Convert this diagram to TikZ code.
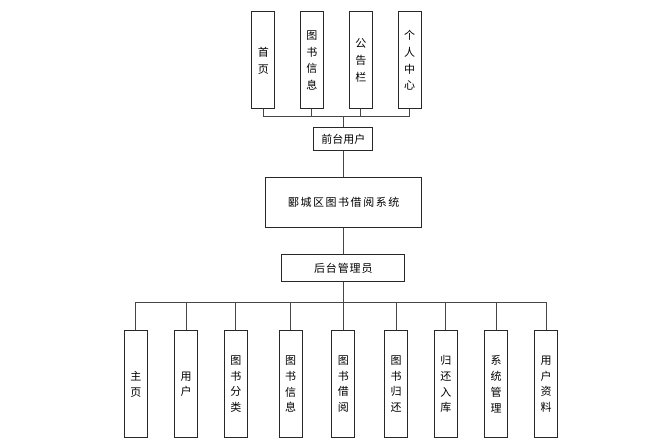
\documentclass[tikz,border=0pt]{standalone}
\usepackage{fontspec}
\setmainfont{Noto Sans CJK SC}
\usetikzlibrary{positioning}
\definecolor{Frame}{RGB}{40,40,40}
\definecolor{Wire}{RGB}{70,70,70}

\begin{document}
\begin{tikzpicture}[
    x=1pt,y=-1pt,
    module/.style={rectangle,draw=Frame,line width=1pt,fill=white,align=center,inner sep=0pt,font=\fontsize{11}{16.7}\selectfont},
    topitem/.style={module,minimum width=23pt,minimum height=97pt},
    subitem/.style={module,minimum width=23pt,minimum height=107pt,font=\fontsize{11}{15.7}\selectfont},
    wire/.style={draw=Wire,line width=0.9pt}
]
\useasboundingbox (0,0) rectangle (661,446);

% Front-end user and its pages
\node[topitem] (shouye) at (263.3,60.5) {首\\页};
\node[topitem] (tushu-xinxi) at (311.8,60.5) {图\\书\\信\\息};
\node[topitem] (gonggao) at (360.8,60.5) {公\\告\\栏};
\node[topitem] (geren) at (409.7,60.5) {个\\人\\中\\心};

\node[module,minimum width=58.7pt,minimum height=22.3pt] (qiantai) at (343.3,139) {前台用户};

\coordinate (top-bus) at (343.3,116);
\draw[wire] (shouye.south) |- (top-bus);
\draw[wire] (tushu-xinxi.south) |- (top-bus);
\draw[wire] (gonggao.south) |- (top-bus);
\draw[wire] (geren.south) |- (top-bus);
\draw[wire] (top-bus) -- (qiantai.north);

% System
\node[module,minimum width=156pt,minimum height=50.4pt] (xitong) at (343.7,202.5) {\addfontfeature{LetterSpace=14}郾城区图书借阅系统};
\draw[wire] (qiantai.south) -- (qiantai.south |- xitong.north);

% Back-end administrator
\node[module,minimum width=123.3pt,minimum height=27.4pt] (houtai) at (343.3,268) {\addfontfeature{LetterSpace=8}后台管理员};
\draw[wire] (houtai.north |- xitong.south) -- (houtai.north);

% Administrator pages
\node[subitem] (zhuye) at (135.8,384.2) {主\\页};
\node[subitem] (yonghu) at (186,384.2) {用\\户};
\node[subitem] (fenlei) at (235.8,384.2) {图\\书\\分\\类};
\node[subitem] (xinxi) at (290.5,384.2) {图\\书\\信\\息};
\node[subitem] (jieyue) at (343.3,384.2) {图\\书\\借\\阅};
\node[subitem] (guihuan) at (396,384.2) {图\\书\\归\\还};
\node[subitem] (ruku) at (445.8,384.2) {归\\还\\入\\库};
\node[subitem] (guanli) at (496,384.2) {系\\统\\管\\理};
\node[subitem] (ziliao) at (546,384.2) {用\\户\\资\\料};

\coordinate (bottom-bus) at (343.3,302.7);
\draw[wire] (houtai.south) -- (bottom-bus);
\draw[wire] (bottom-bus) -| (zhuye.north);
\draw[wire] (bottom-bus) -| (yonghu.north);
\draw[wire] (bottom-bus) -| (fenlei.north);
\draw[wire] (bottom-bus) -| (xinxi.north);
\draw[wire] (bottom-bus) -- (jieyue.north);
\draw[wire] (bottom-bus) -| (guihuan.north);
\draw[wire] (bottom-bus) -| (ruku.north);
\draw[wire] (bottom-bus) -| (guanli.north);
\draw[wire] (bottom-bus) -| (ziliao.north);

\end{tikzpicture}
\end{document}
